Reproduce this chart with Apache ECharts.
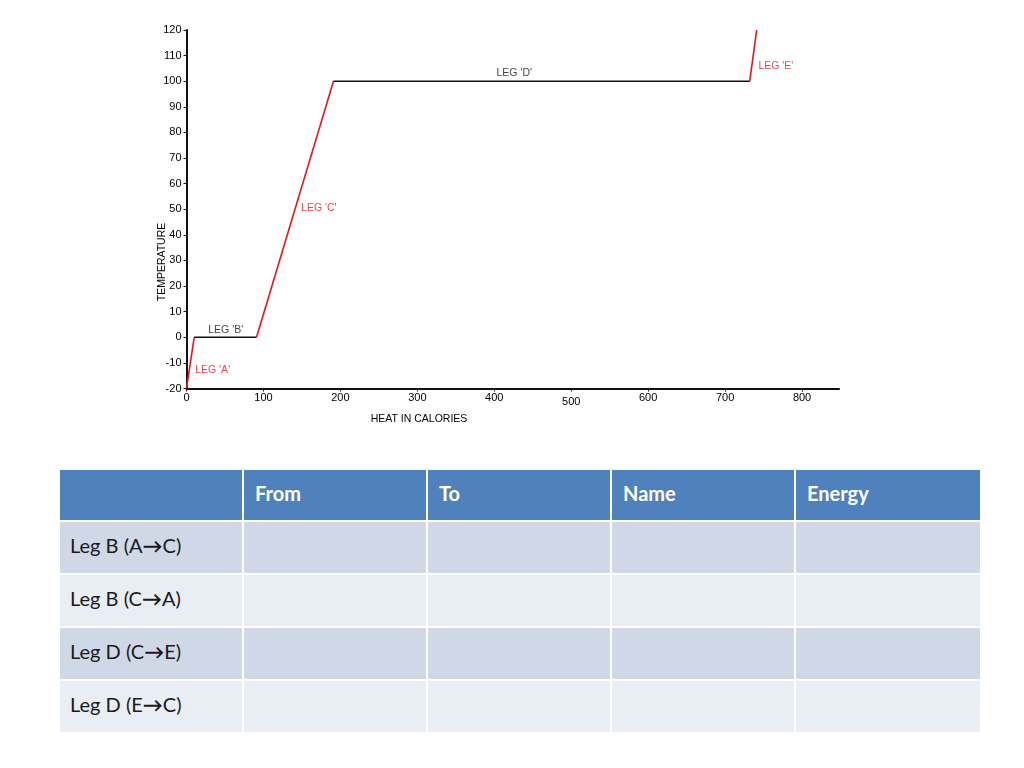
<!DOCTYPE html>
<html lang="en">
<head>
    <meta charset="utf-8">
    <title>Heating curve</title>
    <script src="https://cdn.jsdelivr.net/npm/echarts@6/dist/echarts.min.js"></script>
    <style>
        html, body { margin: 0; padding: 0; background: #fff; }
        #chart { position: absolute; left: 0; top: 0; width: 1024px; height: 450px; }
        #legs {
            position: absolute; left: 60px; top: 470px; width: 920px;
            table-layout: fixed;
            border-collapse: separate; border-spacing: 0;
            font-family: Lato, "Open Sans", sans-serif; font-size: 20px;
        }
        #legs th, #legs td {
            box-sizing: border-box; padding: 0 0 5px 11px; text-align: left; width: 184px;
            border-right: 2px solid #fff; border-bottom: 2px solid #fff;
        }
        #legs th { background: #4f81bd; color: #fff; font-weight: bold; height: 52px; }
        #legs td { color: #1a1a1a; height: 53px; }
        #legs td:first-child { padding-left: 10px; }
        #legs tr.odd td { background: #d0d8e8; }
        #legs tr.even td { background: #e9edf4; }
        #legs th:last-child, #legs td:last-child { border-right: none; }
        #legs .arr { font-weight: bold; }
    </style>
</head>
<body>
<div id="chart"></div>
<table id="legs"></table>
<script>
    // curve corners (heat in calories, temperature)
    var heat = [0, 10, 91, 191, 732, 741];
    var temp = [-20, 0, 0, 100, 100, 120];
    var legNames = ["LEG 'A'", "LEG 'B'", "LEG 'C'", "LEG 'D'", "LEG 'E'"];
    // where each leg's caption sits, in data units
    var labelHeat = [34, 51, 172, 426, 766];
    var labelTemp = [-13, 2.8, 50.5, 103, 106];

    var xTicks = [0, 100, 200, 300, 400, 500, 600, 700, 800];
    var yTicks = [-20, -10, 0, 10, 20, 30, 40, 50, 60, 70, 80, 90, 100, 110, 120];

    var tableHeads = ['', 'From', 'To', 'Name', 'Energy'];
    var tableRows = [['Leg B (A', 'C)'], ['Leg B (C', 'A)'], ['Leg D (C', 'E)'], ['Leg D (E', 'C)']];

    var RED = '#e8141b', BLACK = '#111';
    var legColors = [RED, BLACK, RED, BLACK, RED];
    var FONT = 'Liberation Sans, Arial, sans-serif';

    var series = [];
    for (var i = 0; i < legNames.length; i++) {
        series.push({
            name: legNames[i],
            type: 'line',
            symbol: 'none',
            silent: true,
            lineStyle: {color: legColors[i], width: 1.6},
            data: [[heat[i], temp[i]], [heat[i + 1], temp[i + 1]]]
        });
    }
    // leg captions
    series.push({
        type: 'scatter',
        symbolSize: 0,
        silent: true,
        data: legNames.map(function (n, i) {
            return {value: [labelHeat[i], labelTemp[i]], name: n, label: {color: legColors[i]}};
        }),
        label: {show: true, position: 'inside', formatter: '{b}', fontFamily: FONT, fontSize: 10.5}
    });

    var chart = echarts.init(document.getElementById('chart'));
    chart.setOption({
        animation: false,
        grid: {left: 186.5, right: 185, top: 30, bottom: 61.5},
        xAxis: {
            type: 'value',
            min: 0, max: 848, interval: 100,
            splitLine: {show: false},
            axisLine: {onZero: false, lineStyle: {color: BLACK, width: 2}},
            axisTick: {length: 3, lineStyle: {color: BLACK}},
            axisLabel: {
                showMaxLabel: false,
                fontFamily: FONT, fontSize: 11, color: '#000', margin: 4,
                formatter: function (v) {
                    if (xTicks.indexOf(v) < 0) return '';
                    return v === 500 ? '{low|' + v + '}' : String(v);
                },
                rich: {low: {padding: [4, 0, 0, 0], fontSize: 11, color: '#000', fontFamily: FONT}}
            }
        },
        yAxis: {
            type: 'value',
            min: yTicks[0], max: yTicks[yTicks.length - 1], interval: 10,
            splitLine: {show: false},
            axisLine: {lineStyle: {color: BLACK, width: 2}},
            axisTick: {length: 3, lineStyle: {color: BLACK}},
            axisLabel: {fontFamily: FONT, fontSize: 11, color: '#000', margin: 5}
        },
        graphic: [
            {
                type: 'text', x: 162, y: 262, rotation: Math.PI / 2,
                style: {text: 'TEMPERATURE', fill: '#000', font: '10.5px "Liberation Sans", Arial, sans-serif',
                    align: 'center', verticalAlign: 'middle'}
            },
            {
                type: 'text', x: 419, y: 419,
                style: {text: 'HEAT IN CALORIES', fill: '#000', font: '10.5px "Liberation Sans", Arial, sans-serif',
                    align: 'center', verticalAlign: 'middle'}
            }
        ],
        series: series
    });

    // empty worksheet table under the chart
    var html = '<tr>' + tableHeads.map(function (h) { return '<th>' + h + '</th>'; }).join('') + '</tr>';
    tableRows.forEach(function (r, i) {
        html += '<tr class="' + (i % 2 === 0 ? 'odd' : 'even') + '"><td>' + r[0] +
            '<span class="arr">\u2192</span>' + r[1] + '</td><td></td><td></td><td></td><td></td></tr>';
    });
    document.getElementById('legs').innerHTML = html;
</script>
</body>
</html>
